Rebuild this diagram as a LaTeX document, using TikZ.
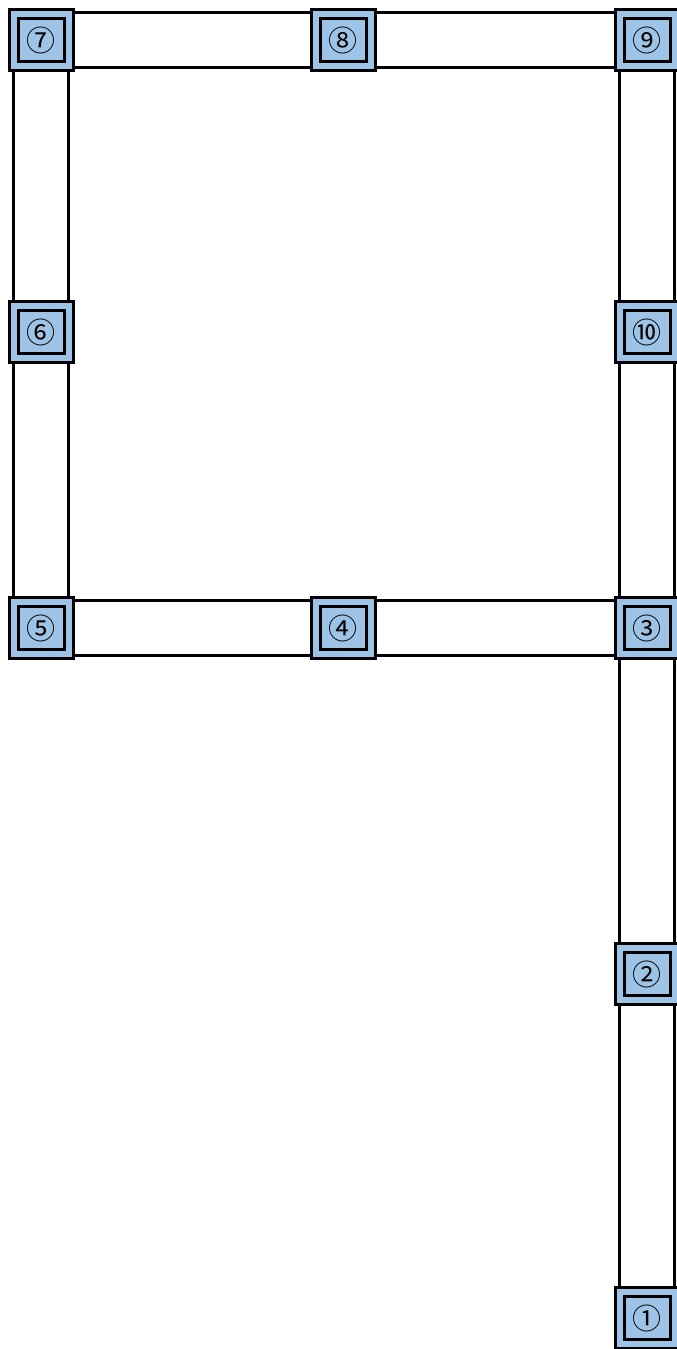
\documentclass[tikz,border=0pt]{standalone}
\usepackage{fontspec}
\newfontfamily\stationfont{Noto Sans CJK JP}
\definecolor{stationblue}{RGB}{157,195,230}

\begin{document}
\begin{tikzpicture}[x=0.5pt, y=-0.5pt,
    station/.style={rectangle, draw=black, line width=1.5pt, double=stationblue, double distance=3pt,
        fill=stationblue, minimum width=27.5pt, minimum height=26pt, inner sep=0pt, outer sep=3pt,
        font=\stationfont\fontsize{14.5}{16}\selectfont},
    corridor/.style={line width=1.5pt, double=white, double distance=26pt}]
    \useasboundingbox (0,0) rectangle (676,1349);

    % Top row
    \node (s7) [station] at (41,40) {⑦};
    \node (s8) [station] at (343,40) {⑧};
    \node (s9) [station] at (647,40) {⑨};

    % Middle
    \node (s6) [station] at (41,332) {⑥};
    \node (s10) [station] at (647,332) {⑩};

    % Lower row
    \node (s5) [station] at (41,628) {⑤};
    \node (s4) [station] at (343,628) {④};
    \node (s3) [station] at (647,628) {③};

    % Right branch
    \node (s2) [station] at (647,974) {②};
    \node (s1) [station] at (647,1318) {①};

    % Corridors
    \draw[corridor] (s7) -- (s8);
    \draw[corridor] (s8) -- (s9);
    \draw[corridor] (s7) -- (s6);
    \draw[corridor] (s6) -- (s5);
    \draw[corridor] (s5) -- (s4);
    \draw[corridor] (s4) -- (s3);
    \draw[corridor] (s9) -- (s10);
    \draw[corridor] (s10) -- (s3);
    \draw[corridor] (s3) -- (s2);
    \draw[corridor] (s2) -- (s1);
\end{tikzpicture}
\end{document}
